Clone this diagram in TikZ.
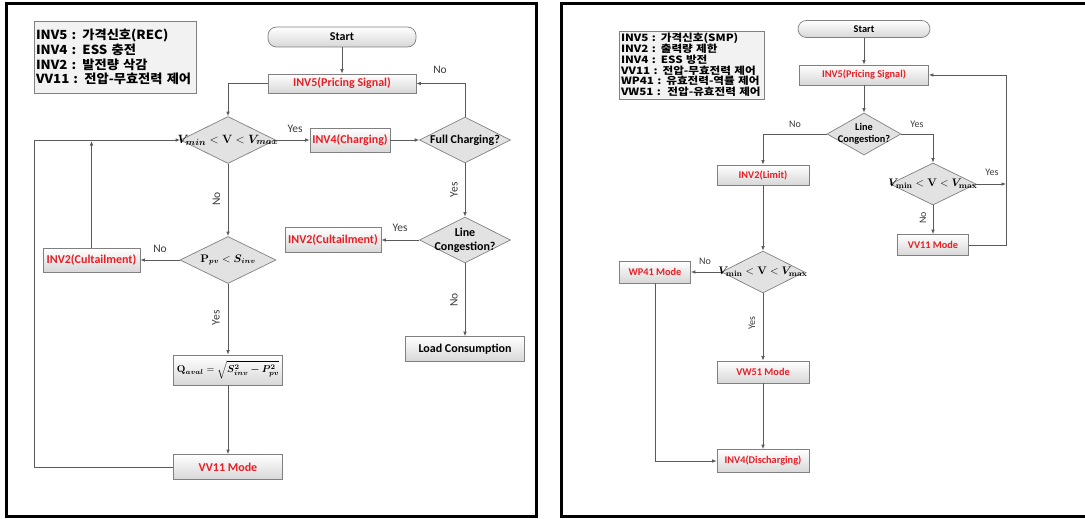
\documentclass[tikz,border=0pt]{standalone}
\usepackage{amsmath}
\usepackage{bm}
\usepackage[no-math]{fontspec}
\setmainfont{Carlito}
\newfontfamily\krL{Noto Sans CJK KR}[FakeStretch=1.06]
\newfontfamily\krR{Noto Sans CJK KR}[FakeStretch=1.16]
\usetikzlibrary{shapes.geometric,arrows.meta}
\definecolor{txtred}{RGB}{232,30,37}
\definecolor{lnc}{RGB}{90,90,90}
\definecolor{bord}{RGB}{128,128,128}
\definecolor{dfill}{RGB}{226,226,226}
\definecolor{legfill}{RGB}{242,242,242}
\definecolor{boxbot}{RGB}{215,215,215}
\definecolor{yncol}{RGB}{60,60,60}
\begin{document}
\begin{tikzpicture}[x=1pt,y=-1pt,
  box/.style={draw=bord, line width=0.7pt, top color=white, bottom color=boxbot, inner sep=1pt, align=center},
  stbox/.style={box, rounded corners=8.5pt},
  dia/.style={diamond, draw=bord, line width=0.7pt, fill=dfill, inner sep=0pt},
  legbox/.style={draw=bord, line width=0.7pt, fill=legfill, inner sep=2pt, align=left},
  con/.style={draw=lnc, line width=0.75pt, -{Latex[length=4.5pt,width=3.6pt]}},
  fL/.style={font=\fontsize{12}{13}\selectfont\bfseries},
  fR/.style={font=\fontsize{10.3}{11.5}\selectfont\bfseries},
  rtxt/.style={text=txtred},
  yn/.style={font=\fontsize{11.5}{12}\selectfont, text=yncol, inner sep=0pt},
  ynR/.style={font=\fontsize{10}{11}\selectfont, text=yncol, inner sep=0pt},
  mtxt/.style={inner sep=0pt}
]
\fill[white] (0,0) rectangle (1085,519);
\useasboundingbox (0,0) rectangle (1085,519);

% frames
\draw[line width=3pt] (6,3.5) rectangle (536,516);
\draw[line width=3pt] (1095,3.5) -- (561,3.5) -- (561,516) -- (1095,516);

% ---------------- left panel ----------------
\node[legbox, minimum width=162pt, minimum height=72pt, text width=158pt,
      font=\krL\fontsize{12.5}{14.7}\selectfont\bfseries] (legL) at (115,57)
  {INV5 : 가격신호(REC)\\INV4 : ESS 충전\\INV2 : 발전량 삭감\\VV11 : 전압-무효전력 제어};

\node[stbox, fL, minimum width=148pt, minimum height=20pt] (startL) at (342,37) {Start};
\node[box, fL, rtxt, minimum width=148pt, minimum height=19pt] (inv5L) at (342,83.5) {INV5(Pricing Signal)};
\node[dia, minimum width=95pt, minimum height=47pt] (d1) at (228,140) {};
\node[mtxt, font=\fontsize{12.2}{14}\selectfont] (d1t) at (d1) {$\bm{V_{min}} < \mathbf{V} < \bm{V_{max}}$};
\node[box, fL, rtxt, minimum width=80pt, minimum height=24pt] (inv4) at (350,140) {INV4(Charging)};
\node[dia, minimum width=91pt, minimum height=46pt] (fc) at (465,140) {};
\node[mtxt, fL] (fct) at (fc) {Full Charging?};
\node[dia, minimum width=91pt, minimum height=46pt] (lcL) at (465,240) {};
\node[mtxt, fL, align=center] (lcLt) at (lcL) {Line\\[1pt]Congestion?};
\node[box, fL, rtxt, minimum width=96pt, minimum height=25pt] (inv2R) at (333,240) {INV2(Cultailment)};
\node[dia, minimum width=96pt, minimum height=47pt] (pd) at (228,260) {};
\node[mtxt, font=\fontsize{10.5}{12}\selectfont] (pdt) at (pd) {$\mathbf{P}_{\bm{pv}} < \bm{S_{inv}}$};
\node[box, fL, rtxt, minimum width=97pt, minimum height=24pt] (inv2L) at (91.5,260) {INV2(Cultailment)};
\node[box, fL, minimum width=119pt, minimum height=25pt] (load) at (465,349) {Load Consumption};
\node[box, minimum width=109pt, minimum height=30pt, inner sep=0pt, font=\fontsize{10.3}{12}\selectfont] (q) at (228,370)
  {$\mathbf{Q}_{\bm{aval}} = \sqrt{\bm{S_{inv}^2 - P_{pv}^2}}$};
\node[box, fL, rtxt, minimum width=109pt, minimum height=25pt] (vv11L) at (228,467) {VV11 Mode};

\coordinate (lpL) at (34,467);
\coordinate (ltL) at (34,140);
\coordinate (upL) at (91.5,141);

\draw[con] (startL) -- (inv5L);
\draw[con] (inv5L.west) -| (d1.north);
\draw[con] (d1.east) -- (inv4.west);
\draw[con] (inv4.east) -- (fc.west);
\draw[con] (fc.north) |- (inv5L.east);
\draw[con] (fc.south) -- (lcL.north);
\draw[con] (lcL.west) -- (inv2R.east);
\draw[con] (lcL.south) -- (load.north);
\draw[con] (d1.south) -- (pd.north);
\draw[con] (pd.west) -- (inv2L.east);
\draw[con] (inv2L.north) -- (upL);
\draw[con] (pd.south) -- (q.north);
\draw[con] (q.south) -- (vv11L.north);
\draw[con] (vv11L.west) -- (lpL) -- (ltL) -- (d1.west);

\node[yn] (yL1) at (295,129) {Yes};
\node[yn] (nL1) at (440,70) {No};
\node[yn, rotate=90] (yL2) at (454,190) {Yes};
\node[yn, rotate=90] (nL2) at (216.5,199) {No};
\node[yn] (nL3) at (160,249) {No};
\node[yn] (yL3) at (400,228) {Yes};
\node[yn, rotate=90] (yL4) at (216,318) {Yes};
\node[yn, rotate=90] (nL4) at (454,300) {No};

% ---------------- right panel ----------------
\node[legbox, minimum width=143pt, minimum height=68pt, text width=141pt,
      font=\krR\fontsize{10}{10.8}\selectfont\bfseries] (legR) at (691.5,65)
  {INV5 : 가격신호(SMP)\\INV2 : 출력량 제한\\INV4 : ESS 방전\\VV11 : 전압-무효전력 제어\\WP41 : 유효전력-역률 제어\\VW51 :\ \ 전압-유효전력 제어};

\node[stbox, fR, minimum width=132pt, minimum height=17pt] (startR) at (864,29) {Start};
\node[box, fR, rtxt, minimum width=129pt, minimum height=20pt] (inv5R) at (864,75) {INV5(Pricing Signal)};
\node[dia, minimum width=74pt, minimum height=42pt] (lcR) at (864,134) {};
\node[mtxt, fR, align=center] (lcRt) at (lcR) {Line\\[1pt]Congestion?};
\node[box, fR, rtxt, minimum width=92pt, minimum height=20pt] (inv2lim) at (763,175) {INV2(Limit)};
\node[dia, minimum width=86pt, minimum height=42pt] (dR) at (933,184) {};
\node[mtxt, font=\fontsize{11}{13}\selectfont] (dRt) at (dR) {$\bm{V}_{\mathbf{min}} < \mathbf{V} < \bm{V}_{\mathbf{max}}$};
\node[box, fR, rtxt, minimum width=71pt, minimum height=21pt] (vv11R) at (933,245) {VV11 Mode};
\node[dia, minimum width=83pt, minimum height=42pt] (dM) at (763,272) {};
\node[mtxt, font=\fontsize{11}{13}\selectfont] (dMt) at (dM) {$\bm{V}_{\mathbf{min}} < \mathbf{V} < \bm{V}_{\mathbf{max}}$};
\node[box, fR, rtxt, minimum width=71pt, minimum height=22pt] (wp41) at (655,272) {WP41 Mode};
\node[box, fR, rtxt, minimum width=92pt, minimum height=22pt] (vw51) at (763,372) {VW51 Mode};
\node[box, fR, rtxt, minimum width=92pt, minimum height=23pt] (inv4d) at (763,461) {INV4(Discharging)};

\coordinate (rb) at (1006,245);
\coordinate (rt) at (1006,75);
\coordinate (ry) at (1006,184);
\coordinate (wpb) at (655,461);

\draw[con] (startR) -- (inv5R);
\draw[con] (inv5R) -- (lcR);
\draw[con] (lcR.west) -| (inv2lim.north);
\draw[con] (lcR.east) -| (dR.north);
\draw[con] (dR.east) -- (ry);
\draw[con] (dR.south) -- (vv11R.north);
\draw[con] (vv11R.east) -- (rb) -- (rt) -- (inv5R.east);
\draw[con] (inv2lim.south) -- (dM.north);
\draw[con] (dM.west) -- (wp41.east);
\draw[con] (dM.south) -- (vw51.north);
\draw[con] (vw51.south) -- (inv4d.north);
\draw[con] (wp41.south) -- (wpb) -- (inv4d.west);

\node[ynR] (nR1) at (795,124) {No};
\node[ynR] (yR1) at (917,124) {Yes};
\node[ynR] (yR2) at (992,172) {Yes};
\node[ynR, rotate=90] (nR2) at (923,218) {No};
\node[ynR] (nR3) at (705,261) {No};
\node[ynR, rotate=90] (yR3) at (752,323) {Yes};
\end{tikzpicture}
\end{document}
